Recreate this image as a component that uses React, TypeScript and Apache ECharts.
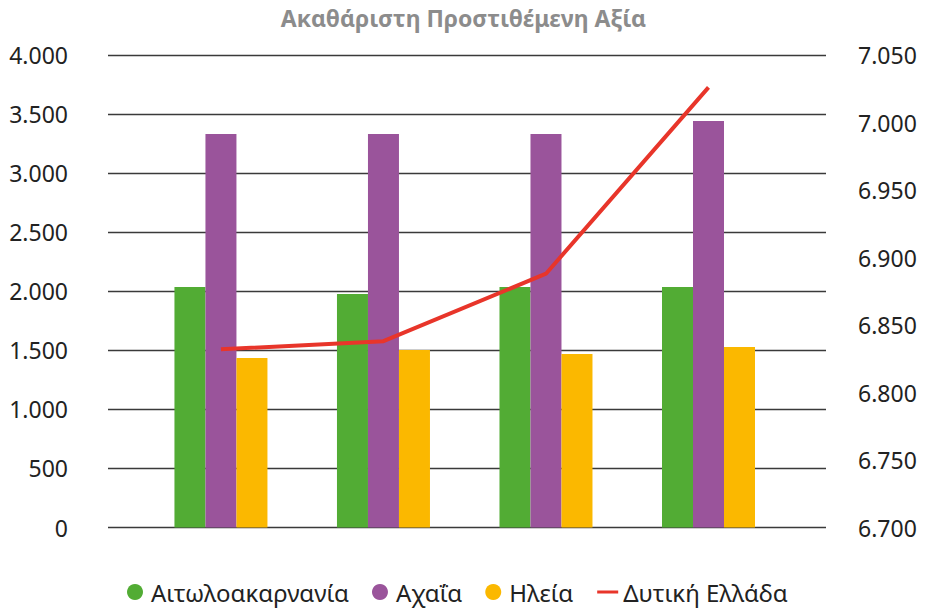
import React, { useEffect, useRef } from "react";
import * as echarts from "echarts";

const titleText = "Ακαθάριστη Προστιθέμενη Αξία";
const categoryPositions = [0, 1, 2, 3];
const seriesNames = ["Αιτωλοακαρνανία", "Αχαΐα", "Ηλεία", "Δυτική Ελλάδα"];
const aitoloakarnania = [2036, 1977, 2036, 2036];
const achaia = [3331, 3331, 3331, 3441];
const ileia = [1435, 1503, 1469, 1528];
const dytikiEllada = [6832, 6838, 6888, 7026];
const colors = ["#52AC34", "#9A549B", "#FBB800", "#E8352A"];

const fmt = (v: number) => String(Math.round(v)).replace(/\B(?=(\d{3})+(?!\d))/g, ".");
const FONT = "'Noto Sans', 'DejaVu Sans', sans-serif";
const lineIcon = "path://M0,0 L0.01,0 L0.01,0.01 Z M1,6.5 L22,6.5 L22,9.5 L1,9.5 Z M21.99,15.99 L22,15.99 L22,16 Z";

export default function App() {
  const ref = useRef<HTMLDivElement>(null);
  useEffect(() => {
    if (!ref.current) return;
    const chart = echarts.init(ref.current, undefined, { renderer: "svg" });
    const pair = (arr: number[]) => arr.map((v, i) => [categoryPositions[i], v]);
    chart.setOption({
      animation: false,
      backgroundColor: "#ffffff",
      textStyle: { fontFamily: FONT },
      title: {
        text: titleText,
        left: "center",
        top: 1,
        textStyle: { fontSize: 23, fontWeight: "bold", color: "#8c8c8c", fontFamily: FONT },
      },
      legend: {
        bottom: 0,
        left: 122,
        itemGap: 23,
        itemWidth: 22,
        itemHeight: 16,
        textStyle: { fontSize: 24, color: "#222", fontFamily: FONT },
        data: [
          { name: seriesNames[0], icon: "circle" },
          { name: seriesNames[1], icon: "circle" },
          { name: seriesNames[2], icon: "circle" },
          { name: seriesNames[3], icon: lineIcon, itemStyle: { color: colors[3] } },
        ],
      },
      grid: { left: 108, right: 101, top: 55, bottom: 81.5, containLabel: false },
      xAxis: {
        type: "value",
        min: -0.695,
        max: 3.723,
        show: false,
      },
      yAxis: [
        {
          type: "value",
          min: 0,
          max: 4000,
          interval: 500,
          axisLine: { show: false },
          axisTick: { show: false },
          axisLabel: { formatter: fmt, fontSize: 23, color: "#222", margin: 40, fontFamily: FONT },
          splitLine: { show: true, lineStyle: { color: "#3a3a3a", width: 1.3 } },
        },
        {
          type: "value",
          min: 6700,
          max: 7050,
          interval: 50,
          position: "right",
          axisLine: { show: false },
          axisTick: { show: false },
          axisLabel: { formatter: fmt, fontSize: 23, color: "#222", margin: 32, fontFamily: FONT },
          splitLine: { show: false },
        },
      ],
      series: [
        { name: seriesNames[0], type: "bar", barWidth: 31, barGap: "0%", data: pair(aitoloakarnania), itemStyle: { color: colors[0] } },
        { name: seriesNames[1], type: "bar", barWidth: 31, barGap: "0%", data: pair(achaia), itemStyle: { color: colors[1] } },
        { name: seriesNames[2], type: "bar", barWidth: 31, barGap: "0%", data: pair(ileia), itemStyle: { color: colors[2] } },
        {
          name: seriesNames[3],
          type: "line",
          yAxisIndex: 1,
          data: pair(dytikiEllada),
          showSymbol: false,
          symbol: "none",
          lineStyle: { color: colors[3], width: 4 },
          itemStyle: { color: colors[3] },
          z: 5,
        },
      ],
    });
    return () => chart.dispose();
  }, []);
  return <div ref={ref} style={{ width: 927, height: 609, position: "absolute", left: 0, top: 0 }} />;
}
